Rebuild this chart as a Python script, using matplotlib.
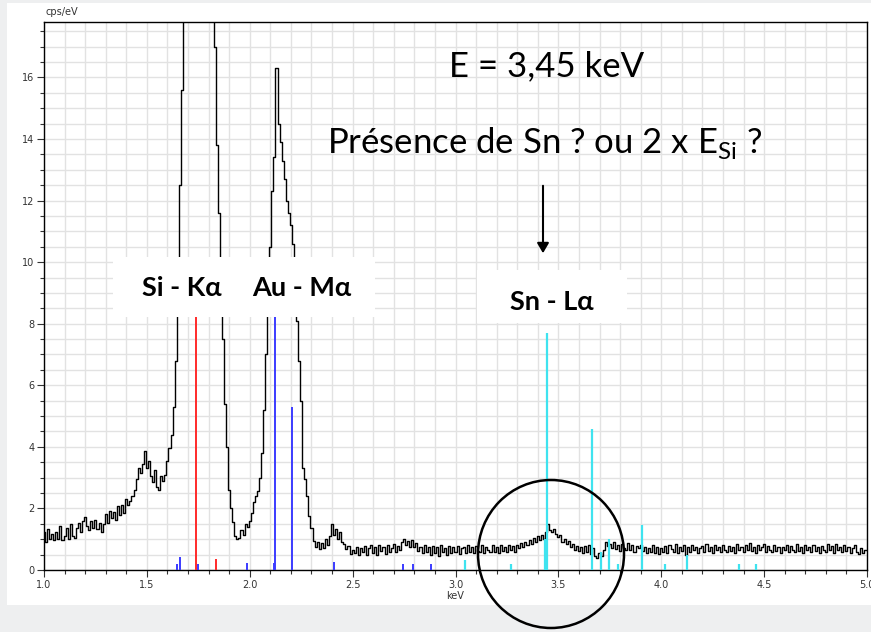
import numpy as np
import matplotlib
matplotlib.use("Agg")
import matplotlib.pyplot as plt
from matplotlib.patches import Rectangle, Ellipse, FancyArrowPatch
from matplotlib.ticker import MultipleLocator

# spectrum, one value per 10 eV channel from 1.00 to 5.00 keV
energy = np.round(np.arange(1.00, 5.001, 0.01), 2)
counts = [
    1.25, 0.92, 1.32, 1.02, 1.18, 0.98, 1.22, 1.02, 1.42, 0.98,
    1.10, 1.38, 1.02, 1.48, 1.12, 1.05, 1.38, 1.52, 1.22, 1.58,
    1.72, 1.42, 1.30, 1.58, 1.38, 1.62, 1.32, 1.52, 1.22, 1.48,
    1.82, 1.52, 1.92, 1.68, 1.88, 1.62, 2.08, 1.78, 2.12, 1.85,
    2.30, 2.10, 2.25, 2.40, 2.60, 2.95, 3.30, 3.15, 3.45, 3.85,
    3.30, 3.55, 3.05, 2.85, 3.25, 2.70, 2.60, 3.05, 2.90, 3.10,
    3.55, 3.95, 4.40, 5.30, 6.80, 9.00, 12.5, 15.6, 22.0, 30.0,
    38.0, 45.0, 50.0, 53.0, 54.0, 53.0, 50.0, 45.0, 40.0, 34.0,
    28.0, 23.0, 19.5, 17.0, 13.8, 11.6, 9.50, 7.50, 5.40, 4.00,
    2.60, 2.00, 1.55, 1.10, 1.00, 1.05, 1.30, 1.15, 1.50, 1.40,
    1.60, 1.85, 2.20, 2.40, 2.55, 3.00, 3.80, 5.20, 7.00, 9.00,
    10.5, 12.3, 13.4, 16.3, 14.5, 13.9, 13.3, 12.7, 12.0, 11.6,
    11.2, 10.6, 9.30, 8.10, 6.80, 5.50, 3.30, 2.95, 2.40, 1.75,
    1.35, 0.95, 0.75, 0.92, 0.68, 0.88, 0.72, 1.02, 0.82, 1.12,
    1.50, 1.15, 1.32, 1.02, 1.22, 0.92, 0.85, 0.68, 0.78, 0.52,
    0.66, 0.56, 0.76, 0.48, 0.70, 0.58, 0.78, 0.50, 0.72, 0.80,
    0.56, 0.76, 0.48, 0.82, 0.62, 0.76, 0.52, 0.80, 0.60, 0.72,
    0.84, 0.58, 0.78, 0.64, 0.92, 1.00, 0.80, 0.94, 0.76, 0.96,
    0.74, 0.88, 0.62, 0.76, 0.56, 0.82, 0.58, 0.74, 0.50, 0.78,
    0.54, 0.76, 0.46, 0.80, 0.58, 0.72, 0.50, 0.78, 0.56, 0.74,
    0.58, 0.78, 0.52, 0.72, 0.76, 0.56, 0.80, 0.60, 0.74, 0.54,
    0.78, 0.62, 0.58, 0.82, 0.54, 0.76, 0.64, 0.58, 0.80, 0.60,
    0.74, 0.56, 0.80, 0.62, 0.76, 0.58, 0.82, 0.64, 0.78, 0.60,
    0.80, 0.70, 0.88, 0.76, 0.92, 0.80, 0.98, 0.86, 1.04, 0.92,
    1.10, 0.98, 1.14, 1.02, 1.22, 1.50, 1.30, 1.24, 1.32, 1.16,
    1.06, 1.14, 0.92, 1.02, 0.86, 0.94, 0.74, 0.86, 0.66, 0.78,
    0.62, 0.76, 0.56, 0.78, 0.58, 0.82, 0.52, 0.70, 0.46, 0.40,
    0.56, 0.44, 0.64, 0.90, 0.78, 0.86, 0.70, 0.92, 0.68, 0.80,
    0.62, 0.84, 0.72, 0.66, 0.88, 0.64, 0.82, 0.58, 0.78, 0.70,
    0.82, 0.62, 0.76, 0.54, 0.72, 0.60, 0.80, 0.56, 0.74, 0.52,
    0.70, 0.58, 0.78, 0.54, 0.82, 0.68, 0.60, 0.84, 0.56, 0.76,
    0.62, 0.80, 0.48, 0.74, 0.60, 0.82, 0.64, 0.76, 0.54, 0.72,
    0.78, 0.58, 0.86, 0.62, 0.74, 0.56, 0.80, 0.64, 0.76, 0.60,
    0.82, 0.66, 0.58, 0.78, 0.62, 0.74, 0.54, 0.84, 0.64, 0.76,
    0.58, 0.80, 0.66, 0.88, 0.62, 0.76, 0.56, 0.82, 0.64, 0.74,
    0.86, 0.60, 0.78, 0.66, 0.58, 0.82, 0.62, 0.76, 0.54, 0.74,
    0.64, 0.82, 0.58, 0.78, 0.66, 0.60, 0.84, 0.62, 0.74, 0.56,
    0.80, 0.64, 0.76, 0.58, 0.82, 0.62, 0.74, 0.54, 0.78, 0.66,
    0.60, 0.84, 0.66, 0.78, 0.56, 0.86, 0.64, 0.74, 0.58, 0.80,
    0.62, 0.76, 0.54, 0.72, 0.82, 0.58, 0.52, 0.70, 0.56, 0.66,
    0.64,
]

# element line markers (keV, height in cps/eV)
si_lines = [1.740, 1.836]
si_heights = [9.5, 0.35]
au_lines = [1.648, 1.662, 1.750, 1.985, 2.118, 2.125, 2.205, 2.410, 2.745, 2.795, 2.880]
au_heights = [0.20, 0.42, 0.20, 0.22, 0.22, 9.5, 5.3, 0.27, 0.18, 0.18, 0.18]
sn_lines = [3.044, 3.268, 3.435, 3.444, 3.663, 3.705, 3.747, 3.790, 3.905, 4.016, 4.125, 4.380, 4.460]
sn_heights = [0.32, 0.20, 1.00, 7.7, 4.57, 0.60, 1.00, 0.20, 1.45, 0.20, 0.50, 0.20, 0.20]

W, H = 871, 632
fig = plt.figure(figsize=(W / 100, H / 100), dpi=100, facecolor="#eeeff0")

def fx(px):
    return px / W

def fy(py):
    return 1 - py / H

# white chart panel
fig.add_artist(Rectangle((fx(7), fy(605)), fx(871) - fx(7), fy(3) - fy(605),
                         transform=fig.transFigure, facecolor="white", edgecolor="none", zorder=0))

ax = fig.add_axes([fx(44), fy(570), fx(867) - fx(44), fy(22) - fy(570)])
ax.set_zorder(1)
ax.set_facecolor("white")

ax.step(energy, counts, where="mid", color="black", lw=1.0, zorder=3)
ax.vlines(si_lines, 0, si_heights, colors="#ff2a2a", lw=1.4, zorder=4)
ax.vlines(au_lines, 0, au_heights, colors="#3b3bff", lw=1.4, zorder=4)
ax.vlines(sn_lines, 0, sn_heights, colors="#3fe3ef", lw=1.6, zorder=4)

ax.set_xlim(1.0, 5.0)
ax.set_ylim(0, 17.8)
ax.xaxis.set_major_locator(MultipleLocator(0.5))
ax.xaxis.set_minor_locator(MultipleLocator(0.1))
ax.yaxis.set_major_locator(MultipleLocator(2))
ax.yaxis.set_minor_locator(MultipleLocator(0.5))
ax.xaxis.set_major_formatter(plt.FuncFormatter(lambda v, p: f"{v:.1f}"))
ax.grid(which="both", color="#e2e2e2", lw=1.0, zorder=0)
ax.set_axisbelow(True)
ax.tick_params(which="major", length=5, width=0.8, labelsize=7, colors="#333333", pad=2)
ax.tick_params(which="minor", length=3, width=0.8, colors="#333333")
for s in ax.spines.values():
    s.set_color("black")
    s.set_linewidth(1.0)

fig.text(fx(45), fy(12), "cps/eV", fontsize=7, color="#333333", ha="left", va="center")
fig.text(fx(455), fy(596), "keV", fontsize=7, color="#333333", ha="center", va="center")

# label boxes
fig.add_artist(Rectangle((fx(113), fy(317)), fx(375) - fx(113), fy(257) - fy(317),
                         transform=fig.transFigure, facecolor="white", edgecolor="none", zorder=2))
fig.add_artist(Rectangle((fx(477), fy(323)), fx(627) - fx(477), fy(270) - fy(323),
                         transform=fig.transFigure, facecolor="white", edgecolor="none", zorder=2))

lab = dict(fontsize=19.5, fontweight="bold", family="Lato", ha="center", va="center", zorder=5)
fig.text(fx(182), fy(288), "Si - K\u03b1", **lab)
fig.text(fx(302), fy(288), "Au - M\u03b1", **lab)
fig.text(fx(552), fy(302), "Sn - L\u03b1", **lab)

big = dict(fontsize=25, family="Lato", ha="center", va="center", zorder=5)
fig.text(fx(547), fy(66), "E = 3,45 keV", **big)
fig.text(fx(545), fy(143), "Présence de Sn ? ou 2 x E$_{\\mathregular{Si}}$ ?", **big)

fig.add_artist(FancyArrowPatch(
    (fx(543), fy(183)), (fx(543), fy(256)), transform=fig.transFigure,
    arrowstyle="-|>,head_length=6,head_width=3.5", color="black", lw=1.5, zorder=5))

fig.add_artist(Ellipse((fx(551), fy(554)), fx(146), 148 / H, transform=fig.transFigure,
                       facecolor="none", edgecolor="black", lw=1.8, zorder=6))

fig.savefig("out.png", dpi=100, facecolor=fig.get_facecolor())
